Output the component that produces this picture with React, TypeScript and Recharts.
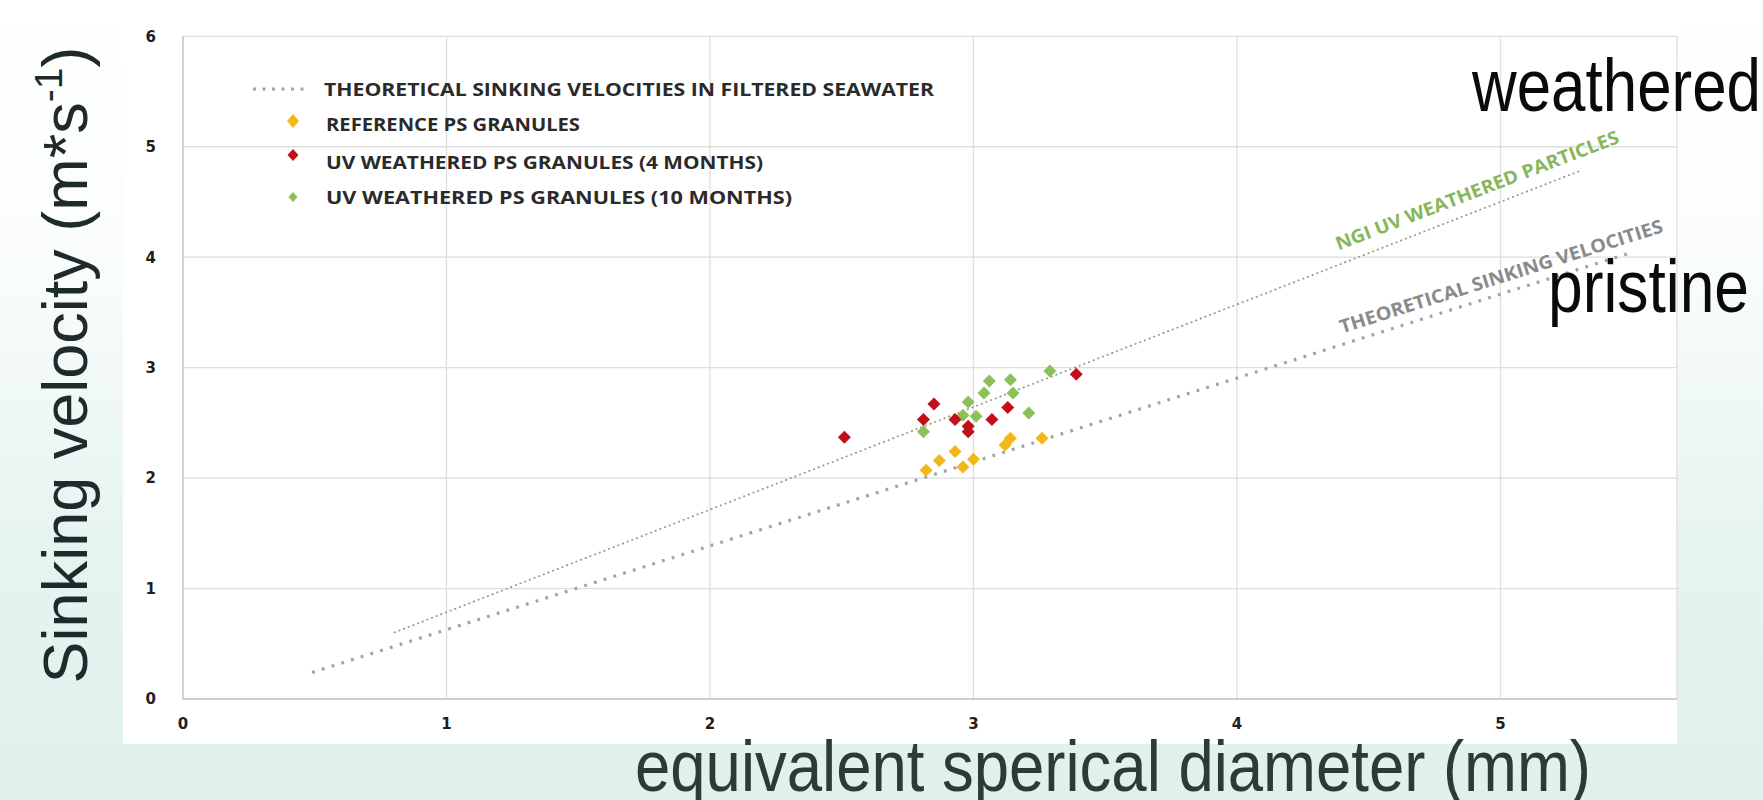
import React from 'react';
import { ScatterChart, Scatter, XAxis, YAxis, CartesianGrid } from 'recharts';

// axis ticks
const xTicks = [0, 1, 2, 3, 4, 5];
const yTicks = [0, 1, 2, 3, 4, 5, 6];

// reference PS granules
const referenceX = [2.82, 2.87, 2.93, 2.96, 3.0, 3.12, 3.14, 3.26];
const referenceY = [2.07, 2.16, 2.24, 2.1, 2.17, 2.3, 2.36, 2.36];

// UV weathered, 4 months
const uv4X = [2.85, 2.81, 2.93, 2.98, 2.98, 3.07, 3.13, 3.39, 2.51];
const uv4Y = [2.67, 2.53, 2.53, 2.47, 2.42, 2.53, 2.64, 2.94, 2.37];

// UV weathered, 10 months
const uv10X = [3.06, 3.14, 3.04, 3.15, 2.98, 2.96, 3.01, 3.21, 2.81, 3.29];
const uv10Y = [2.88, 2.89, 2.77, 2.77, 2.69, 2.57, 2.56, 2.59, 2.42, 2.97];

// fitted lines (start / end)
const theoreticalX = [0.49, 5.48];
const theoreticalY = [0.24, 4.03];
const weatheredX = [0.8, 5.3];
const weatheredY = [0.6, 4.78];

// labels written along the lines
const lineLabelText = ['NGI UV WEATHERED PARTICLES', 'THEORETICAL SINKING VELOCITIES'];
const lineLabelX = [4.92, 5.01];
const lineLabelY = [4.55, 3.77];

const legendLabels = [
  'THEORETICAL SINKING VELOCITIES IN FILTERED SEAWATER',
  'REFERENCE PS GRANULES',
  'UV WEATHERED PS GRANULES (4 MONTHS)',
  'UV WEATHERED PS GRANULES (10 MONTHS)',
];

const zip = (xs: number[], ys: number[]) => xs.map((x, i) => ({ x, y: ys[i] }));

const YELLOW = '#f3b817';
const RED = '#c2101b';
const GREEN = '#8cc159';
const GRAY_DOTS = '#a2a2a2';

const diamond = (color: string, hw: number, hh: number) => (p: any) => {
  const { cx, cy } = p;
  if (cx == null || cy == null) return <g />;
  return (
    <polygon
      points={`${cx},${cy - hh} ${cx + hw},${cy} ${cx},${cy + hh} ${cx - hw},${cy}`}
      fill={color}
    />
  );
};

const labelStyles = [
  { angle: -21, color: '#86b75a', len: 302 },
  { angle: -17.5, color: '#8a8a8a', len: 338 },
];

const LineLabel = (p: any) => {
  const { cx, cy, payload } = p;
  const s = labelStyles[payload.i];
  return (
    <text
      x={cx}
      y={cy}
      transform={`rotate(${s.angle} ${cx} ${cy})`}
      textAnchor="middle"
      fill={s.color}
      fontFamily="'Open Sans', sans-serif"
      fontWeight={700}
      fontSize={18.5}
      textLength={s.len}
      lengthAdjust="spacingAndGlyphs"
    >
      {payload.text}
    </text>
  );
};

const tickStyle = { fill: '#1e1e1e', fontSize: 15, fontWeight: 700, fontFamily: "'DejaVu Sans', sans-serif" };

export default function App() {
  const referenceData = zip(referenceX, referenceY);
  const uv4Data = zip(uv4X, uv4Y);
  const uv10Data = zip(uv10X, uv10Y);
  const theoreticalData = zip(theoreticalX, theoreticalY);
  const weatheredData = zip(weatheredX, weatheredY);
  const labelData = lineLabelText.map((text, i) => ({ x: lineLabelX[i], y: lineLabelY[i], text, i }));

  const legendRows = [
    { cy: 89, ty: 95.5, tx: 324, len: 610 },
    { cy: 121, ty: 130.5, tx: 326, len: 254 },
    { cy: 155, ty: 168.5, tx: 326, len: 437 },
    { cy: 197, ty: 203.5, tx: 326, len: 466 },
  ];
  const legendMarks = [
    null,
    { color: YELLOW, hw: 6, hh: 7 },
    { color: RED, hw: 5.5, hh: 6 },
    { color: GREEN, hw: 4.5, hh: 5 },
  ];

  return (
    <div
      style={{
        position: 'absolute',
        left: 0,
        top: 0,
        width: 1763,
        height: 800,
        overflow: 'hidden',
        background: 'linear-gradient(to bottom, #ffffff 0%, #fbfdfd 30%, #e6f4f1 68%, #dff0ed 100%)',
      }}
    >
      <div style={{ position: 'absolute', left: 123, top: 12, width: 1554, height: 732, background: '#ffffff' }} />
      <div style={{ position: 'absolute', left: 0, top: 0 }}>
        <ScatterChart width={1763} height={800} margin={{ top: 36.3, right: 86, bottom: 71, left: 123 }}>
          <CartesianGrid stroke="#dedede" strokeWidth={1.3} />
          <XAxis
            type="number"
            dataKey="x"
            domain={[0, 5.67]}
            ticks={xTicks}
            allowDataOverflow
            tickLine={false}
            tickSize={0}
            tickMargin={19}
            axisLine={{ stroke: '#c4c4c4', strokeWidth: 1.5 }}
            tick={tickStyle}
            height={30}
          />
          <YAxis
            type="number"
            dataKey="y"
            domain={[0, 6]}
            ticks={yTicks}
            allowDataOverflow
            tickLine={false}
            tickSize={0}
            tickMargin={27}
            axisLine={{ stroke: '#c8c8c8', strokeWidth: 1.5 }}
            tick={tickStyle}
            width={60}
          />
          <Scatter
            data={theoreticalData}
            line={{ stroke: GRAY_DOTS, strokeWidth: 3.2, strokeDasharray: '2.8 7.4' }}
            shape={() => <g />}
            isAnimationActive={false}
          />
          <Scatter
            data={weatheredData}
            line={{ stroke: '#939c85', strokeWidth: 1.7, strokeDasharray: '2 3' }}
            shape={() => <g />}
            isAnimationActive={false}
          />
          <Scatter data={labelData} shape={LineLabel} isAnimationActive={false} />
          <Scatter data={referenceData} shape={diamond(YELLOW, 6.5, 6.5)} isAnimationActive={false} />
          <Scatter data={uv10Data} shape={diamond(GREEN, 6.5, 6.5)} isAnimationActive={false} />
          <Scatter data={uv4Data} shape={diamond(RED, 6.5, 6.5)} isAnimationActive={false} />
        </ScatterChart>
      </div>
      <svg
        width={1763}
        height={800}
        style={{ position: 'absolute', left: 0, top: 0, pointerEvents: 'none' }}
      >
        {legendLabels.map((label, i) => {
          const r = legendRows[i];
          const m = legendMarks[i];
          return (
            <g key={label}>
              {m ? (
                <polygon
                  points={`293,${r.cy - m.hh} ${293 + m.hw},${r.cy} 293,${r.cy + m.hh} ${293 - m.hw},${r.cy}`}
                  fill={m.color}
                />
              ) : (
                <line x1={253} x2={304} y1={r.cy} y2={r.cy} stroke={GRAY_DOTS} strokeWidth={3} strokeDasharray="3 6.5" />
              )}
              <text
                x={r.tx}
                y={r.ty}
                fill="#2a2a2a"
                fontFamily="'Open Sans', sans-serif"
                fontWeight={700}
                fontSize={18}
                textLength={r.len}
                lengthAdjust="spacingAndGlyphs"
              >
                {label}
              </text>
            </g>
          );
        })}
        <text
          x={1472}
          y={111}
          fontFamily="'Liberation Sans', Arial, sans-serif"
          fontSize={74}
          fill="#0a0a0a"
          textLength={289}
          lengthAdjust="spacingAndGlyphs"
        >
          weathered
        </text>
        <text
          x={1548}
          y={312}
          fontFamily="'Liberation Sans', Arial, sans-serif"
          fontSize={74}
          fill="#0a0a0a"
          textLength={201}
          lengthAdjust="spacingAndGlyphs"
        >
          pristine
        </text>
        <text
          x={635}
          y={791}
          fontFamily="'Liberation Sans', Arial, sans-serif"
          fontSize={72}
          fill="#2c3a38"
          textLength={956}
          lengthAdjust="spacingAndGlyphs"
        >
          equivalent sperical diameter (mm)
        </text>
        <text
          transform="translate(87 365) rotate(-90)"
          textAnchor="middle"
          fontFamily="'Liberation Sans', Arial, sans-serif"
          fontSize={63}
          fill="#1f2b2a"
        >
          Sinking velocity (m*s
          <tspan fontSize={39} dy={-25}>-1</tspan>
          <tspan dy={25}>)</tspan>
        </text>
      </svg>
    </div>
  );
}
